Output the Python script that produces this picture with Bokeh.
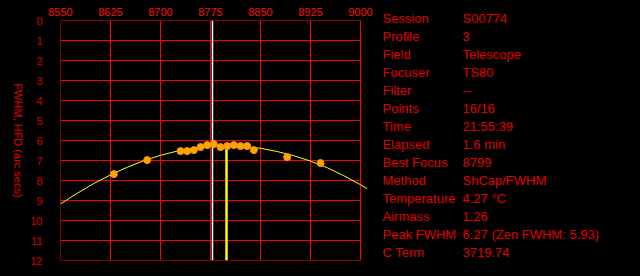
import math
from bokeh.plotting import figure
from bokeh.layouts import row
from bokeh.models import Range1d, FixedTicker
from bokeh.core.properties import value
from bokeh.embed import file_html
from bokeh.resources import INLINE

# ---- data ----
x_ticks = [8550, 8625, 8700, 8775, 8850, 8925, 9000]
y_ticks = list(range(0, 13))

pos = [8630, 8680, 8730, 8740, 8750, 8760, 8770, 8780, 8790, 8800, 8810, 8820, 8830, 8840, 8890, 8940]
fwhm = [7.68, 6.98, 6.53, 6.53, 6.48, 6.33, 6.23, 6.18, 6.33, 6.28, 6.23, 6.28, 6.28, 6.48, 6.83, 7.13]

curve_x = [8550, 8575, 8600, 8625, 8650, 8675, 8700, 8725, 8750, 8775, 8799,
           8825, 8850, 8875, 8900, 8925, 8950, 8975, 9000, 9010]
curve_y = [9.17, 8.64, 8.15, 7.72, 7.34, 7.01, 6.74, 6.53, 6.39, 6.30, 6.27,
           6.30, 6.39, 6.55, 6.76, 7.03, 7.36, 7.76, 8.21, 8.41]

marker_pos = 8778
best_focus = 8799
peak_fwhm = 6.27

y_title = "FWHM, HFD (arc secs)"
info_keys = ["Session", "Profile", "Field", "Focuser", "Filter", "Points", "Time",
             "Elapsed", "Best Focus", "Method", "Temperature", "Airmass", "Peak FWHM", "C Term"]
info_vals = ["S00774", "3", "Telescope", "TS80", "--", "16/16", "21:55:39",
             "1.6 min", "8799", "ShCap/FWHM", "4.27 \u00b0C", "1.26",
             "6.27 (Zen FWHM: 5.93)", "3719.74"]

FONT = "Liberation Sans"
H = 276
TITLE_W = 26
MAIN_END = 375
BLACK = {"background-color": "black"}


def blank_fig(w, h):
    f = figure(width=w, height=h, output_backend="svg", toolbar_location=None,
               x_range=Range1d(0, w), y_range=Range1d(h, 0),
               x_axis_location=None, y_axis_location=None,
               min_border=0, styles=BLACK, frame_align=False)
    f.background_fill_color = "black"
    f.border_fill_color = "black"
    f.outline_line_color = None
    f.grid.visible = False
    return f


# ---- left strip with the rotated axis title ----
t = blank_fig(TITLE_W, H)
t.text(x=[17], y=[140], text=[y_title], angle=-math.pi / 2,
       text_align="center", text_baseline="middle", text_color="#e00000",
       text_font=value(FONT), text_font_size="11px")

# ---- main chart ----
MW = MAIN_END - TITLE_W
p = figure(width=MW, height=H, output_backend="svg", toolbar_location=None,
           x_range=Range1d(8550, 9012), y_range=Range1d(12, 0),
           x_axis_location="above", styles=BLACK, frame_align=False,
           min_border_left=60 - TITLE_W, min_border_right=MAIN_END - 368,
           min_border_top=20, min_border_bottom=16)
p.background_fill_color = "black"
p.border_fill_color = "black"
p.outline_line_color = None
p.xgrid.visible = False
p.ygrid.visible = False

for ax in (p.xaxis[0], p.yaxis[0]):
    ax.axis_line_color = None
    ax.major_tick_line_color = None
    ax.minor_tick_line_color = None
    ax.major_tick_out = 0
    ax.major_tick_in = 0
    ax.minor_tick_out = 0
    ax.minor_tick_in = 0
    ax.major_label_text_font = FONT
    ax.major_label_text_font_size = "11px"

p.xaxis.ticker = FixedTicker(ticks=x_ticks)
p.xaxis.major_label_text_color = "#ff1010"
p.xaxis.major_label_standoff = 5
p.yaxis.ticker = FixedTicker(ticks=y_ticks)
p.yaxis.major_label_text_color = "#d00000"
p.yaxis.major_label_standoff = 18

# grid of red lines limited to 8550..9000
p.segment(x0=x_ticks, y0=[0] * len(x_ticks), x1=x_ticks, y1=[12] * len(x_ticks),
          line_color="#ff0000", line_width=1)
p.segment(x0=[x_ticks[0]] * len(y_ticks), y0=y_ticks, x1=[x_ticks[-1]] * len(y_ticks), y1=y_ticks,
          line_color="#ff0000", line_width=1)

# white marker line
p.segment(x0=[marker_pos], y0=[0], x1=[marker_pos], y1=[12], line_color="white", line_width=1.5)

# fitted curve
p.line(curve_x, curve_y, line_color="#ffff00", line_width=1)

# best focus line
p.segment(x0=[best_focus], y0=[peak_fwhm], x1=[best_focus], y1=[12], line_color="#ffff00", line_width=2.5)

# points
p.scatter(pos, fwhm, size=7, fill_color="#ffa500", line_color="#ff9900")

# ---- info panel ----
PW = 640 - MAIN_END
q = blank_fig(PW, H)
row_y = [18 + 18 * i for i in range(len(info_keys))]
q.text(x=[382 - MAIN_END] * len(info_keys), y=row_y, text=info_keys,
       text_align="left", text_baseline="middle", text_color="#e00000",
       text_font=value(FONT), text_font_size="13px")
q.text(x=[462 - MAIN_END] * len(info_vals), y=row_y, text=info_vals,
       text_align="left", text_baseline="middle", text_color="#e00000",
       text_font=value(FONT), text_font_size="13px")

layout = row(t, p, q, spacing=0, styles=BLACK)
open("out.html", "w").write(file_html(layout, INLINE))
